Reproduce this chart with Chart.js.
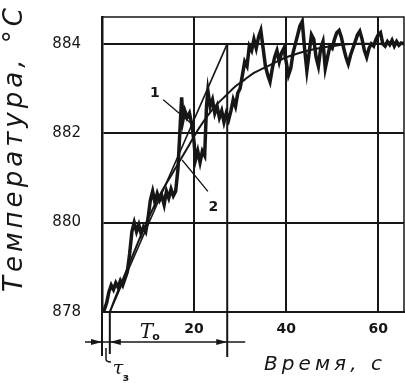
<!DOCTYPE html>
<html>
<head>
<meta charset="utf-8">
<script src="https://cdn.jsdelivr.net/npm/chart.js@4"></script>
<style>
    body { margin: 0; background: #fff; }
    #chart { display: block; }
</style>
</head>
<body>
<canvas id="chart" width="405" height="383"></canvas>
<script>
    const noisyTime = [0, 0.5, 1, 1.5, 2, 2.5, 3, 3.5, 4, 4.5, 5, 5.5, 6, 6.5, 7, 7.5, 8, 8.5, 9, 9.5,
        10, 10.5, 11, 11.5, 12, 12.5, 13, 13.5, 14, 14.5, 15, 15.5, 16, 16.5, 17, 17.3, 17.6, 18, 18.5, 19,
        19.5, 20, 20.3, 20.8, 21.3, 21.8, 22.3, 22.7, 23, 23.5, 24, 24.5, 25, 25.5, 26, 26.5, 27, 27.5, 28, 28.5,
        29, 29.5, 30, 30.5, 31, 31.5, 32, 32.5, 33, 33.5, 34, 34.5, 35, 35.5, 36, 36.5, 37, 37.5, 38, 38.5,
        39, 39.5, 40, 40.5, 41, 41.5, 42, 42.5, 43, 43.5, 44, 44.5, 45, 45.5, 46, 46.5, 47, 47.5, 48, 48.5,
        49, 49.5, 50, 50.5, 51, 51.5, 52, 52.5, 53, 53.5, 54, 54.5, 55, 55.5, 56, 56.5, 57, 57.5, 58, 58.5,
        59, 59.5, 60, 60.5, 61, 61.5, 62, 62.5, 63, 63.5, 64, 64.5, 65, 65.6]
    const noisyTemp = [878.0, 878.05, 878.2, 878.45, 878.6, 878.5, 878.65, 878.55, 878.7, 878.6, 878.75, 878.9, 879.3, 879.8, 880.0, 879.8, 879.95, 879.75, 879.9, 879.8,
        880.1, 880.5, 880.7, 880.45, 880.65, 880.5, 880.6, 880.4, 880.7, 880.55, 880.75, 880.6, 880.7, 881.2, 882.2, 882.8, 882.3, 882.5, 882.35, 882.45,
        882.2, 881.8, 881.4, 881.6, 881.35, 881.6, 881.5, 882.6, 882.95, 882.6, 882.75, 882.45, 882.6, 882.35, 882.5, 882.25, 882.45, 882.3, 882.5, 882.75,
        882.6, 882.9, 883.0, 883.3, 883.6, 883.5, 883.95, 883.85, 884.1, 883.9, 884.15, 884.3, 883.9, 883.5, 883.3, 883.15, 883.45, 883.7, 883.85, 883.6,
        883.8, 883.9, 883.6, 883.3, 883.45, 883.8, 884.0, 884.2, 884.4, 884.5, 883.9, 883.4, 883.8, 884.2, 884.1, 883.7, 883.5, 883.9, 884.05, 883.45,
        883.7, 883.95, 883.9, 884.1, 884.25, 884.3, 884.15, 883.9, 883.7, 883.55, 883.75, 883.9, 884.05, 884.2, 884.28, 884.1, 883.85, 883.7, 883.9, 884.0,
        883.95, 884.1, 884.2, 884.25, 884.0, 883.95, 884.05, 883.98, 884.08, 883.95, 884.05, 883.97, 884.02, 884.0]

    // smooth curve (2)
    const smoothTime = [1.7, 3, 5, 7, 9, 11, 13, 15, 17, 19, 21, 23, 25, 27, 29, 31, 33, 35, 37, 40, 43, 46, 50, 55, 60, 65.6]
    const smoothTemp = [878.0, 878.35, 878.85, 879.35, 879.85, 880.3, 880.7, 881.05, 881.4, 881.75, 882.1, 882.4, 882.65, 882.85, 883.05, 883.2, 883.35, 883.45, 883.55, 883.7, 883.8, 883.88, 883.95, 884.0, 884.0, 884.0]

    // tangent: from delay point to the end of T0
    const tangentTime = [1.7, 27.2]
    const tangentTemp = [878, 884]

    const xTicks = [0, 20, 40, 60]
    const yTicks = [878, 880, 882, 884]

    const ink = '#161616'
    const pts = (xs, ys) => xs.map((x, i) => ({ x: x, y: ys[i] }))

    // draws text spread out to a given length, char by char
    function spaced(ctx, text, cx, cy, length) {
        const chars = Array.from(text)
        const widths = chars.map(c => ctx.measureText(c).width)
        const total = widths.reduce((a, b) => a + b, 0)
        const gap = (length - total) / (chars.length - 1)
        let x = cx - length / 2
        ctx.textAlign = 'left'
        chars.forEach((c, i) => {
            ctx.fillText(c, x, cy)
            x += widths[i] + gap
        })
    }

    function arrowHead(ctx, x, y, dir) {
        ctx.beginPath()
        ctx.moveTo(x, y)
        ctx.lineTo(x - dir * 11, y - 3)
        ctx.lineTo(x - dir * 11, y + 3)
        ctx.closePath()
        ctx.fill()
    }

    const extras = {
        id: 'extras',
        afterDraw(chart) {
            const ctx = chart.ctx
            const xs = chart.scales.x
            const ys = chart.scales.y
            const a = chart.chartArea
            ctx.save()
            ctx.strokeStyle = ink
            ctx.fillStyle = ink

            // top and right frame
            ctx.lineWidth = 1.5
            ctx.beginPath()
            ctx.moveTo(a.left, a.top)
            ctx.lineTo(a.right, a.top)
            ctx.lineTo(a.right, a.bottom)
            ctx.stroke()

            const x0 = xs.getPixelForValue(0)
            const xd = xs.getPixelForValue(tangentTime[0])
            const xe = xs.getPixelForValue(tangentTime[1])

            // drop lines below the axis
            ctx.lineWidth = 2
            ctx.beginPath()
            ctx.moveTo(xe, ys.getPixelForValue(884))
            ctx.lineTo(xe, a.bottom + 45)
            ctx.moveTo(x0, a.bottom)
            ctx.lineTo(x0, a.bottom + 44)
            ctx.moveTo(xd, a.bottom)
            ctx.lineTo(xd, a.bottom + 42)
            ctx.stroke()

            // little hook to the delay label
            ctx.lineWidth = 1.5
            ctx.beginPath()
            ctx.moveTo(x0 + 4, a.bottom + 36)
            ctx.lineTo(x0 + 4, a.bottom + 47)
            ctx.quadraticCurveTo(x0 + 4, a.bottom + 50, x0 + 9, a.bottom + 50)
            ctx.stroke()

            // dimension line with arrows
            const ay = a.bottom + 30
            ctx.lineWidth = 1.5
            ctx.beginPath()
            ctx.moveTo(x0 - 17, ay)
            ctx.lineTo(xe + 18, ay)
            ctx.stroke()
            arrowHead(ctx, x0, ay, 1)
            arrowHead(ctx, xd, ay, -1)
            arrowHead(ctx, xe, ay, 1)

            // T0 and tau labels
            ctx.textAlign = 'left'
            ctx.textBaseline = 'alphabetic'
            ctx.font = 'italic 20px "DejaVu Serif"'
            ctx.fillText('T', xs.getPixelForValue(8.2), a.bottom + 26)
            ctx.font = 'bold 11px "DejaVu Sans"'
            ctx.fillText('o', xs.getPixelForValue(10.9), a.bottom + 28)
            ctx.font = 'italic 19px "DejaVu Serif"'
            ctx.fillText('τ', xd + 3, a.bottom + 62)
            ctx.font = 'bold 11px "DejaVu Sans"'
            ctx.fillText('з', xd + 13, a.bottom + 69)

            // curve labels with leaders
            ctx.lineWidth = 1.3
            ctx.beginPath()
            ctx.moveTo(xs.getPixelForValue(13.3), ys.getPixelForValue(882.75))
            ctx.lineTo(xs.getPixelForValue(19.6), ys.getPixelForValue(882.2))
            ctx.moveTo(xs.getPixelForValue(17.4), ys.getPixelForValue(881.4))
            ctx.lineTo(xs.getPixelForValue(23.0), ys.getPixelForValue(880.7))
            ctx.stroke()
            ctx.font = 'bold 14px "DejaVu Sans"'
            ctx.textAlign = 'center'
            ctx.fillText('1', xs.getPixelForValue(11.5), ys.getPixelForValue(882.82))
            ctx.fillText('2', xs.getPixelForValue(24.2), ys.getPixelForValue(880.25))

            // axis titles
            ctx.textBaseline = 'middle'
            ctx.font = 'italic 26px "DejaVu Sans"'
            ctx.save()
            ctx.translate(15, 150)
            ctx.rotate(-Math.PI / 2)
            spaced(ctx, 'Температура, °С', 0, 0, 284)
            ctx.restore()
            ctx.font = 'italic 20px "DejaVu Sans"'
            spaced(ctx, 'Время, с', 323, 365, 118)

            ctx.restore()
        }
    }

    new Chart(document.getElementById('chart'), {
        type: 'line',
        data: {
            datasets: [{
                label: '1',
                data: pts(noisyTime, noisyTemp),
                borderColor: ink,
                borderWidth: 3.5,
                pointRadius: 0,
                tension: 0
            }, {
                label: '2',
                data: pts(smoothTime, smoothTemp),
                borderColor: ink,
                borderWidth: 2,
                pointRadius: 0,
                tension: 0.4,
                cubicInterpolationMode: 'monotone'
            }, {
                label: 'tangent',
                data: pts(tangentTime, tangentTemp),
                borderColor: ink,
                borderWidth: 1.6,
                pointRadius: 0
            }]
        },
        options: {
            responsive: false,
            animation: false,
            devicePixelRatio: 1,
            layout: { autoPadding: false, padding: { top: 17, right: 1, left: 0, bottom: 0 } },
            plugins: { legend: { display: false }, title: { display: false }, tooltip: { enabled: false } },
            scales: {
                x: {
                    type: 'linear',
                    min: 0,
                    max: 65.6,
                    afterBuildTicks: s => { s.ticks = xTicks.map(v => ({ value: v })) },
                    afterFit: s => { s.height = 71; s.paddingLeft = 0; s.paddingRight = 0 },
                    ticks: {
                        color: ink,
                        font: { family: 'DejaVu Sans', size: 14, weight: 'bold' },
                        padding: 9,
                        maxRotation: 0,
                        callback: v => v === 0 ? '' : v
                    },
                    grid: { color: ink, lineWidth: 2, drawTicks: false },
                    border: { color: ink, width: 2 }
                },
                y: {
                    type: 'linear',
                    min: 878,
                    max: 884.6,
                    afterBuildTicks: s => { s.ticks = yTicks.map(v => ({ value: v })) },
                    afterFit: s => { s.width = 102; s.paddingTop = 0; s.paddingBottom = 0 },
                    ticks: {
                        color: ink,
                        font: { family: 'DejaVu Sans', size: 15 },
                        padding: 21
                    },
                    grid: { color: ink, lineWidth: 2, drawTicks: false },
                    border: { color: ink, width: 2.5 }
                }
            }
        },
        plugins: [extras]
    })
</script>
</body>
</html>
